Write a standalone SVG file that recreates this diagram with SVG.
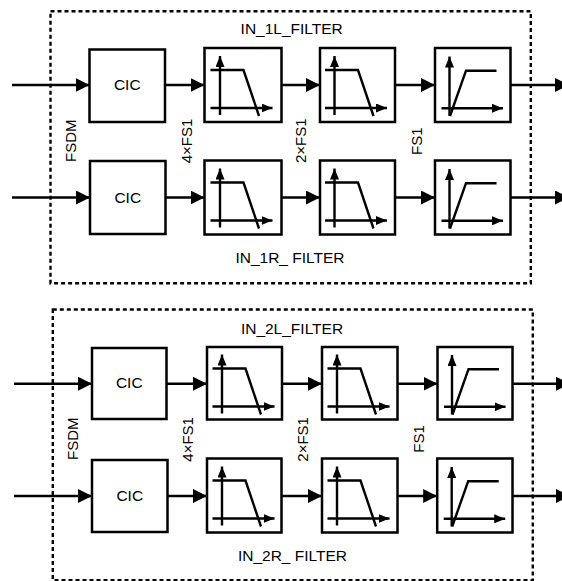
<svg xmlns="http://www.w3.org/2000/svg" width="562" height="581" viewBox="0 0 562 581">
<style>
.frame{fill:none;stroke:#000;stroke-width:2.4;stroke-dasharray:4 3}
.box{fill:#fff;stroke:#000;stroke-width:2.5}
.ln{fill:none;stroke:#000;stroke-width:2.5}
.icon{fill:none;stroke:#000;stroke-width:2.4}
.t{font-family:"Liberation Sans",Arial,sans-serif;font-size:15.5px;fill:#000}
.c{text-anchor:middle}
.r{font-family:"Liberation Sans",Arial,sans-serif;font-size:15px;fill:#000}
</style>
<defs>
<marker id="la" markerUnits="userSpaceOnUse" markerWidth="14" markerHeight="14" refX="14" refY="7" orient="auto"><path d="M0,0L14,7L0,14z" fill="#000"/></marker>
<marker id="sa" markerUnits="userSpaceOnUse" markerWidth="11" markerHeight="9" refX="11" refY="4.5" orient="auto"><path d="M0,0L11,4.5L0,9z" fill="#000"/></marker>
<g id="lp">
<line class="icon" x1="15.5" y1="67" x2="15.5" y2="8" marker-end="url(#sa)"/>
<line class="icon" x1="6" y1="60" x2="68" y2="60" marker-end="url(#sa)"/>
<polyline class="icon" points="6,22 39,22 54.5,68"/>
</g>
<g id="hp">
<line class="icon" x1="14.5" y1="68" x2="14.5" y2="8.5" marker-end="url(#sa)"/>
<line class="icon" x1="6.5" y1="60.3" x2="68" y2="60.3" marker-end="url(#sa)"/>
<polyline class="icon" points="15,68 31,22.7 61.5,22.7"/>
</g>
</defs>
<rect width="562" height="581" fill="#fff"/>

<g id="block1">
<rect class="frame" x="50.5" y="11.2" width="480.3" height="272"/>
<text class="t c" x="291.7" y="34">IN_1L_FILTER</text>
<text class="t c" x="290" y="262.5">IN_1R_ FILTER</text>
<text class="r" transform="translate(75.5,162) rotate(-90)">FSDM</text>
<text class="r" transform="translate(191.5,163.3) rotate(-90)">4×FS1</text>
<text class="r" transform="translate(306,163) rotate(-90)">2×FS1</text>
<text class="r" transform="translate(421.5,155) rotate(-90)">FS1</text>
</g>

<g id="block2">
<rect class="frame" x="52.8" y="309.5" width="480" height="270.7"/>
<text class="t c" x="292" y="334">IN_2L_FILTER</text>
<text class="t c" x="292.5" y="561">IN_2R_ FILTER</text>
<text class="r" transform="translate(78.3,460) rotate(-90)">FSDM</text>
<text class="r" transform="translate(193.3,461.7) rotate(-90)">4×FS1</text>
<text class="r" transform="translate(308.3,461.7) rotate(-90)">2×FS1</text>
<text class="r" transform="translate(424,452.7) rotate(-90)">FS1</text>
</g>

<g id="connectors">
<line class="ln" x1="12" y1="85" x2="89.5" y2="85" marker-end="url(#la)"/>
<line class="ln" x1="165" y1="85" x2="204.5" y2="85" marker-end="url(#la)"/>
<line class="ln" x1="281.5" y1="85" x2="320" y2="85" marker-end="url(#la)"/>
<line class="ln" x1="395" y1="85" x2="435" y2="85" marker-end="url(#la)"/>
<line class="ln" x1="510.5" y1="85" x2="569" y2="85" marker-end="url(#la)"/>

<line class="ln" x1="12" y1="197.5" x2="90" y2="197.5" marker-end="url(#la)"/>
<line class="ln" x1="165.5" y1="197.5" x2="204.5" y2="197.5" marker-end="url(#la)"/>
<line class="ln" x1="281.5" y1="197.5" x2="320" y2="197.5" marker-end="url(#la)"/>
<line class="ln" x1="395" y1="197.5" x2="435" y2="197.5" marker-end="url(#la)"/>
<line class="ln" x1="510.5" y1="197.5" x2="569" y2="197.5" marker-end="url(#la)"/>

<line class="ln" x1="14" y1="383.8" x2="92" y2="383.8" marker-end="url(#la)"/>
<line class="ln" x1="166.5" y1="383.8" x2="207" y2="383.8" marker-end="url(#la)"/>
<line class="ln" x1="282" y1="383.8" x2="322" y2="383.8" marker-end="url(#la)"/>
<line class="ln" x1="397.5" y1="383.8" x2="437.5" y2="383.8" marker-end="url(#la)"/>
<line class="ln" x1="512.5" y1="383.8" x2="570" y2="383.8" marker-end="url(#la)"/>

<line class="ln" x1="14" y1="496" x2="92" y2="496" marker-end="url(#la)"/>
<line class="ln" x1="167.5" y1="496" x2="207" y2="496" marker-end="url(#la)"/>
<line class="ln" x1="281.5" y1="496" x2="322" y2="496" marker-end="url(#la)"/>
<line class="ln" x1="397.5" y1="496" x2="437.2" y2="496" marker-end="url(#la)"/>
<line class="ln" x1="512.5" y1="496" x2="570" y2="496" marker-end="url(#la)"/>
</g>

<g id="cic_1l"><rect class="box" x="89.5" y="49.5" width="75.5" height="72.5"/><text class="t c" x="127.25" y="90.3">CIC</text></g>
<g id="lpf_1l_a"><rect class="box" x="204.5" y="48" width="77" height="74"/><use href="#lp" x="204.5" y="48"/></g>
<g id="lpf_1l_b"><rect class="box" x="320" y="48" width="75" height="74"/><use href="#lp" x="319" y="48"/></g>
<g id="hpf_1l"><rect class="box" x="435" y="48" width="75.5" height="74"/><use href="#hp" x="435" y="48"/></g>

<g id="cic_1r"><rect class="box" x="90" y="161" width="75.5" height="73"/><text class="t c" x="127.75" y="202.5">CIC</text></g>
<g id="lpf_1r_a"><rect class="box" x="204.5" y="160.5" width="77" height="74"/><use href="#lp" x="204.5" y="160.5"/></g>
<g id="lpf_1r_b"><rect class="box" x="320" y="160.5" width="75" height="74"/><use href="#lp" x="319" y="160.5"/></g>
<g id="hpf_1r"><rect class="box" x="435" y="160.5" width="75.5" height="74"/><use href="#hp" x="435" y="160.5"/></g>

<g id="cic_2l"><rect class="box" x="92" y="348" width="74.5" height="71"/><text class="t c" x="129.25" y="388.3">CIC</text></g>
<g id="lpf_2l_a"><rect class="box" x="207" y="347" width="75" height="72.5"/><use href="#lp" x="206.5" y="346.5"/></g>
<g id="lpf_2l_b"><rect class="box" x="322" y="347" width="75.5" height="72.5"/><use href="#lp" x="321.5" y="346.5"/></g>
<g id="hpf_2l"><rect class="box" x="437.5" y="347" width="75" height="72.5"/><use href="#hp" x="437.5" y="346.5"/></g>

<g id="cic_2r"><rect class="box" x="92" y="460" width="75.5" height="72"/><text class="t c" x="129.75" y="500.8">CIC</text></g>
<g id="lpf_2r_a"><rect class="box" x="207" y="458.5" width="74.5" height="74"/><use href="#lp" x="206.5" y="458.5"/></g>
<g id="lpf_2r_b"><rect class="box" x="322" y="458.5" width="75.5" height="74"/><use href="#lp" x="321.5" y="458.5"/></g>
<g id="hpf_2r"><rect class="box" x="437.2" y="458.5" width="75.3" height="74"/><use href="#hp" x="437.2" y="458.5"/></g>
</svg>
